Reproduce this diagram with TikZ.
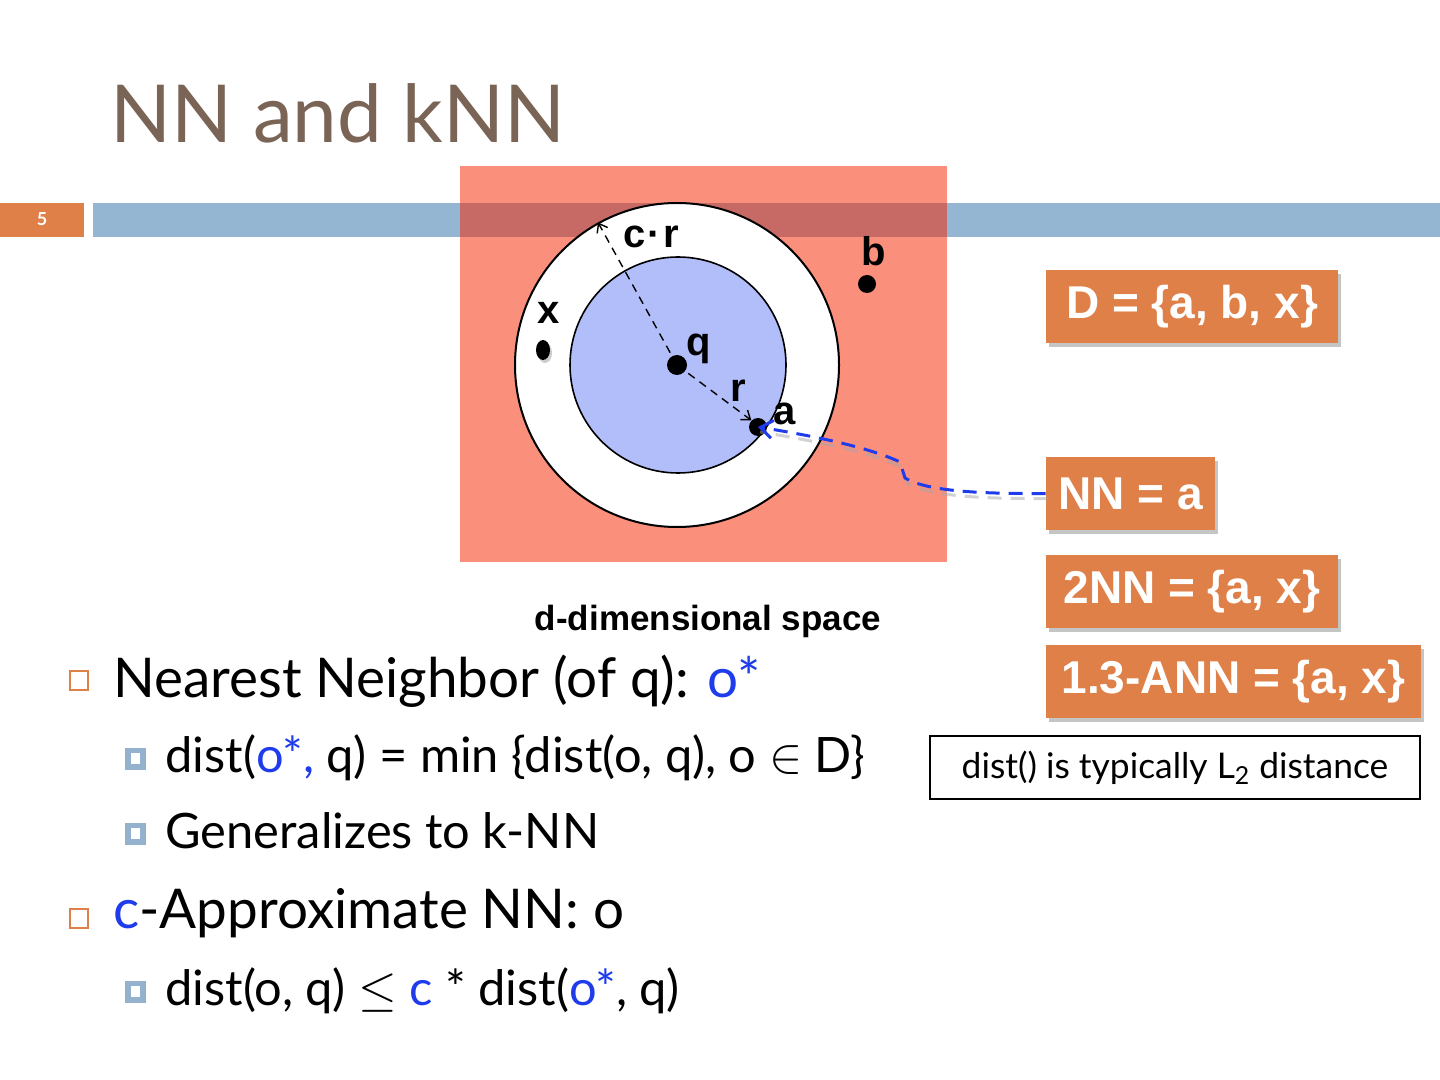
\documentclass[tikz,border=0pt]{standalone}
\usepackage{fontspec}
\setmainfont{Lato}
\newfontfamily\lab{Liberation Sans}
\usetikzlibrary{shadows,arrows.meta,shapes.geometric}
\definecolor{salmon}{RGB}{250,143,124}
\definecolor{band}{RGB}{199,106,102}
\definecolor{barblue}{RGB}{148,182,210}
\definecolor{orng}{RGB}{222,128,72}
\definecolor{innerc}{RGB}{178,190,250}
\definecolor{oblue}{RGB}{30,60,235}
\definecolor{titlec}{RGB}{122,100,86}
\definecolor{subsq}{RGB}{148,178,205}
\tikzset{
  lbl/.style={anchor=base, inner sep=0, font=\lab\bfseries\fontsize{20}{22}\selectfont},
  dot/.style={circle, fill=black, inner sep=0, minimum size=#1},
  obox/.style={fill=orng, text=white, inner sep=0, minimum height=36.5pt,
    font=\lab\bfseries\fontsize{23}{25}\selectfont,
    drop shadow={opacity=0.45, shadow xshift=1.5pt, shadow yshift=-2pt}},
  bl/.style={anchor=base west, inner sep=0, font=\fontsize{27.4}{31}\selectfont},
  sbl/.style={anchor=base west, inner sep=0, font=\fontsize{24.4}{28}\selectfont},
  radarrow/.style={dashed, dash pattern=on 4pt off 3pt, line width=0.7pt, -{Straight Barb[length=4pt,width=6pt]}},
  blueline/.style={line width=1.5pt, dash pattern=on 7pt off 4.5pt},
}
\newcommand{\lvlone}[1]{\draw[orng, line width=1pt] (70,#1-19) rectangle (88,#1);}
\newcommand{\lvltwo}[1]{\fill[subsq] (125,#1-11) rectangle (146,#1+11); \fill[white] (131,#1-6) rectangle (140,#1+5);}
\begin{document}
\begin{tikzpicture}[x=0.5pt,y=-0.5pt]
\useasboundingbox (0,0) rectangle (1440,1080);
\fill[white] (0,0) rectangle (1440,1080);
% title
\node[anchor=base west, inner sep=0, text=titlec, font=\fontsize{40}{44}\selectfont] (title) at (110,143) {NN and kNN};
% header bar
\fill[orng] (0,203) rectangle (84,237);
\node[text=white, font=\bfseries\fontsize{9}{10}\selectfont] (pg) at (42,219) {5};
\fill[barblue] (93,203) rectangle (1440,237);
% space
\fill[salmon] (460,166) rectangle (947,562);
\fill[band] (460,203) rectangle (947,237);
\node[circle, draw, line width=1pt, fill=white, minimum size=162pt, inner sep=0] (outer) at (677,365) {};
\node[circle, draw, line width=0.8pt, fill=innerc, minimum size=108pt, inner sep=0] (inner) at (678,365) {};
\node[dot=10pt] (q) at (677,365) {};
\node[dot=9pt] (a) at (758,427) {};
\node[dot=9pt] (b) at (867,284) {};
\node[ellipse, fill=black, inner sep=0, minimum width=7pt, minimum height=10pt,
  drop shadow={opacity=0.4, shadow xshift=1pt, shadow yshift=-1.5pt}] (x) at (543,350) {};
\node[lbl] (lq) at (699,356) {q};
\node[lbl] (lr) at (738,402) {r};
\node[lbl] (la) at (785,424) {a};
\node[lbl] (lb) at (874,266) {b};
\node[lbl] (lx) at (549,324) {x};
\node[lbl] (lcr) at (651,248) {c{\kern1pt}·{\kern1pt}r};
\draw[radarrow] (q.center) -- (a.north west);
\draw[radarrow] (q.center) -- (outer.119.5);
\node[font=\lab\bfseries\fontsize{17.5}{20}\selectfont, anchor=base, inner sep=0] (dlab) at (708,630) {d-dimensional space};
% boxes
\node[obox, minimum width=146pt] (D) at (1192,307) {D = \{a, b, x\}};
\node[obox, minimum width=84.5pt] (NN) at (1130.5,493.5) {NN = a};
\node[obox, minimum width=146pt] (NN2) at (1192,591.5) {2NN = \{a, x\}};
\node[obox, minimum width=187.5pt] (ANN) at (1233.5,681.5) {1.3-ANN = \{a, x\}};
% blue connector
\draw[black!35, opacity=0.5, blueline, transform canvas={xshift=1pt, yshift=-2.5pt}]
  (NN.west) .. controls (970,494) and (925,490) .. (905,478) -- (900,462) .. controls (870,448) and (820,437) .. (a.center);
\draw[oblue, blueline, -{Straight Barb[length=6pt,width=9pt]}]
  (NN.west) .. controls (970,494) and (925,490) .. (905,478) -- (900,462) .. controls (870,448) and (820,437) .. (a.center);
% note
\node[draw, line width=1pt, minimum width=245pt, minimum height=31.5pt, inner sep=0, font=\fontsize{17.7}{21}\selectfont] (note) at (1175,767.5) {dist() is typically L\textsubscript{2} distance};
% bullets
\lvlone{690}
\node[bl] (b1) at (113,697) {Nearest Neighbor (of q): \textcolor{oblue}{o*}};
\lvltwo{759}
\node[sbl] (b2) at (165,772) {dist(\textcolor{oblue}{o*,} q) = min \{dist(o, q), o $\in$ D\}};
\lvltwo{834}
\node[sbl] (b3) at (165,848) {Generalizes to k-NN};
\lvlone{928}
\node[bl] (b4) at (113,928) {\textcolor{oblue}{c}-Approximate NN: o};
\lvltwo{992}
\node[sbl] (b5) at (165,1005) {dist(o, q) $\leq$ \textcolor{oblue}{c} * dist(\textcolor{oblue}{o*}, q)};
\end{tikzpicture}
\end{document}
